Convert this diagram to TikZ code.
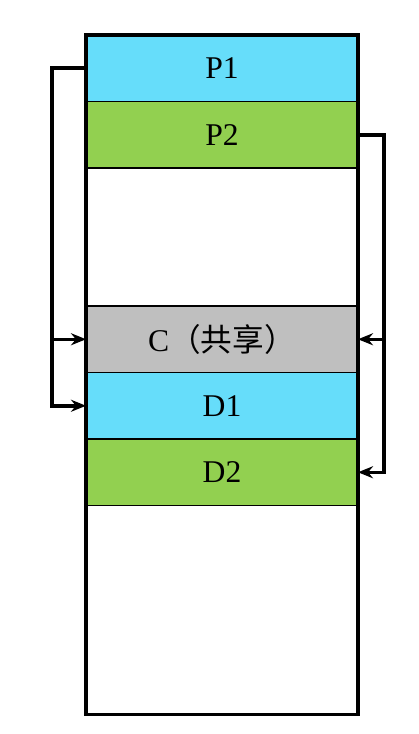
\documentclass[tikz,border=0pt]{standalone}
\usepackage{fontspec}
\setmainfont{Liberation Serif}
\newfontfamily\cjk{Noto Sans CJK SC}
\usetikzlibrary{positioning,arrows.meta}
\definecolor{pcyan}{HTML}{66DDFA}
\definecolor{pgreen}{HTML}{92D050}
\definecolor{cgray}{HTML}{BFBFBF}

\begin{document}
\begin{tikzpicture}[
  font=\fontsize{18}{21}\selectfont,
  band/.style={draw, line width=0.9pt, minimum width=5.44cm, minimum height=1.33cm,
    inner sep=0pt, outer sep=0pt},
  blank/.style={band, draw=none},
  wall/.style={draw, line width=2.2pt},
  arr/.style={-{Stealth[length=3mm, width=2.4mm]}, line width=2pt}
]
\useasboundingbox (0,0) rectangle (8.36,-14.68);
\node[band, fill=pcyan, anchor=north west] (p1) at (1.72,-0.70) {P1};
\node[band, fill=pgreen, below=0pt of p1] (p2) {P2};
\node[blank, minimum height=2.76cm, below=0pt of p2] (gap) {};
\node[band, fill=cgray, below=0pt of gap] (c) {C{\cjk（共享）}};
\node[band, fill=pcyan, below=0pt of c] (d1) {D1};
\node[band, fill=pgreen, below=0pt of d1] (d2) {D2};
\node[blank, minimum height=4.18cm, below=0pt of d2] (free) {};
\draw[wall] (p1.north west) rectangle (free.south east);
% P1 -> C, D1
\draw[arr] (p1.west) -- ++(-0.68,0) coordinate (lft) |- (c.west);
\draw[arr] (lft) |- (d1.west);
% P2 -> C, D2
\draw[arr] (p2.east) -- ++(0.52,0) coordinate (rgt) |- (c.east);
\draw[arr] (rgt) |- (d2.east);
\end{tikzpicture}
\end{document}
